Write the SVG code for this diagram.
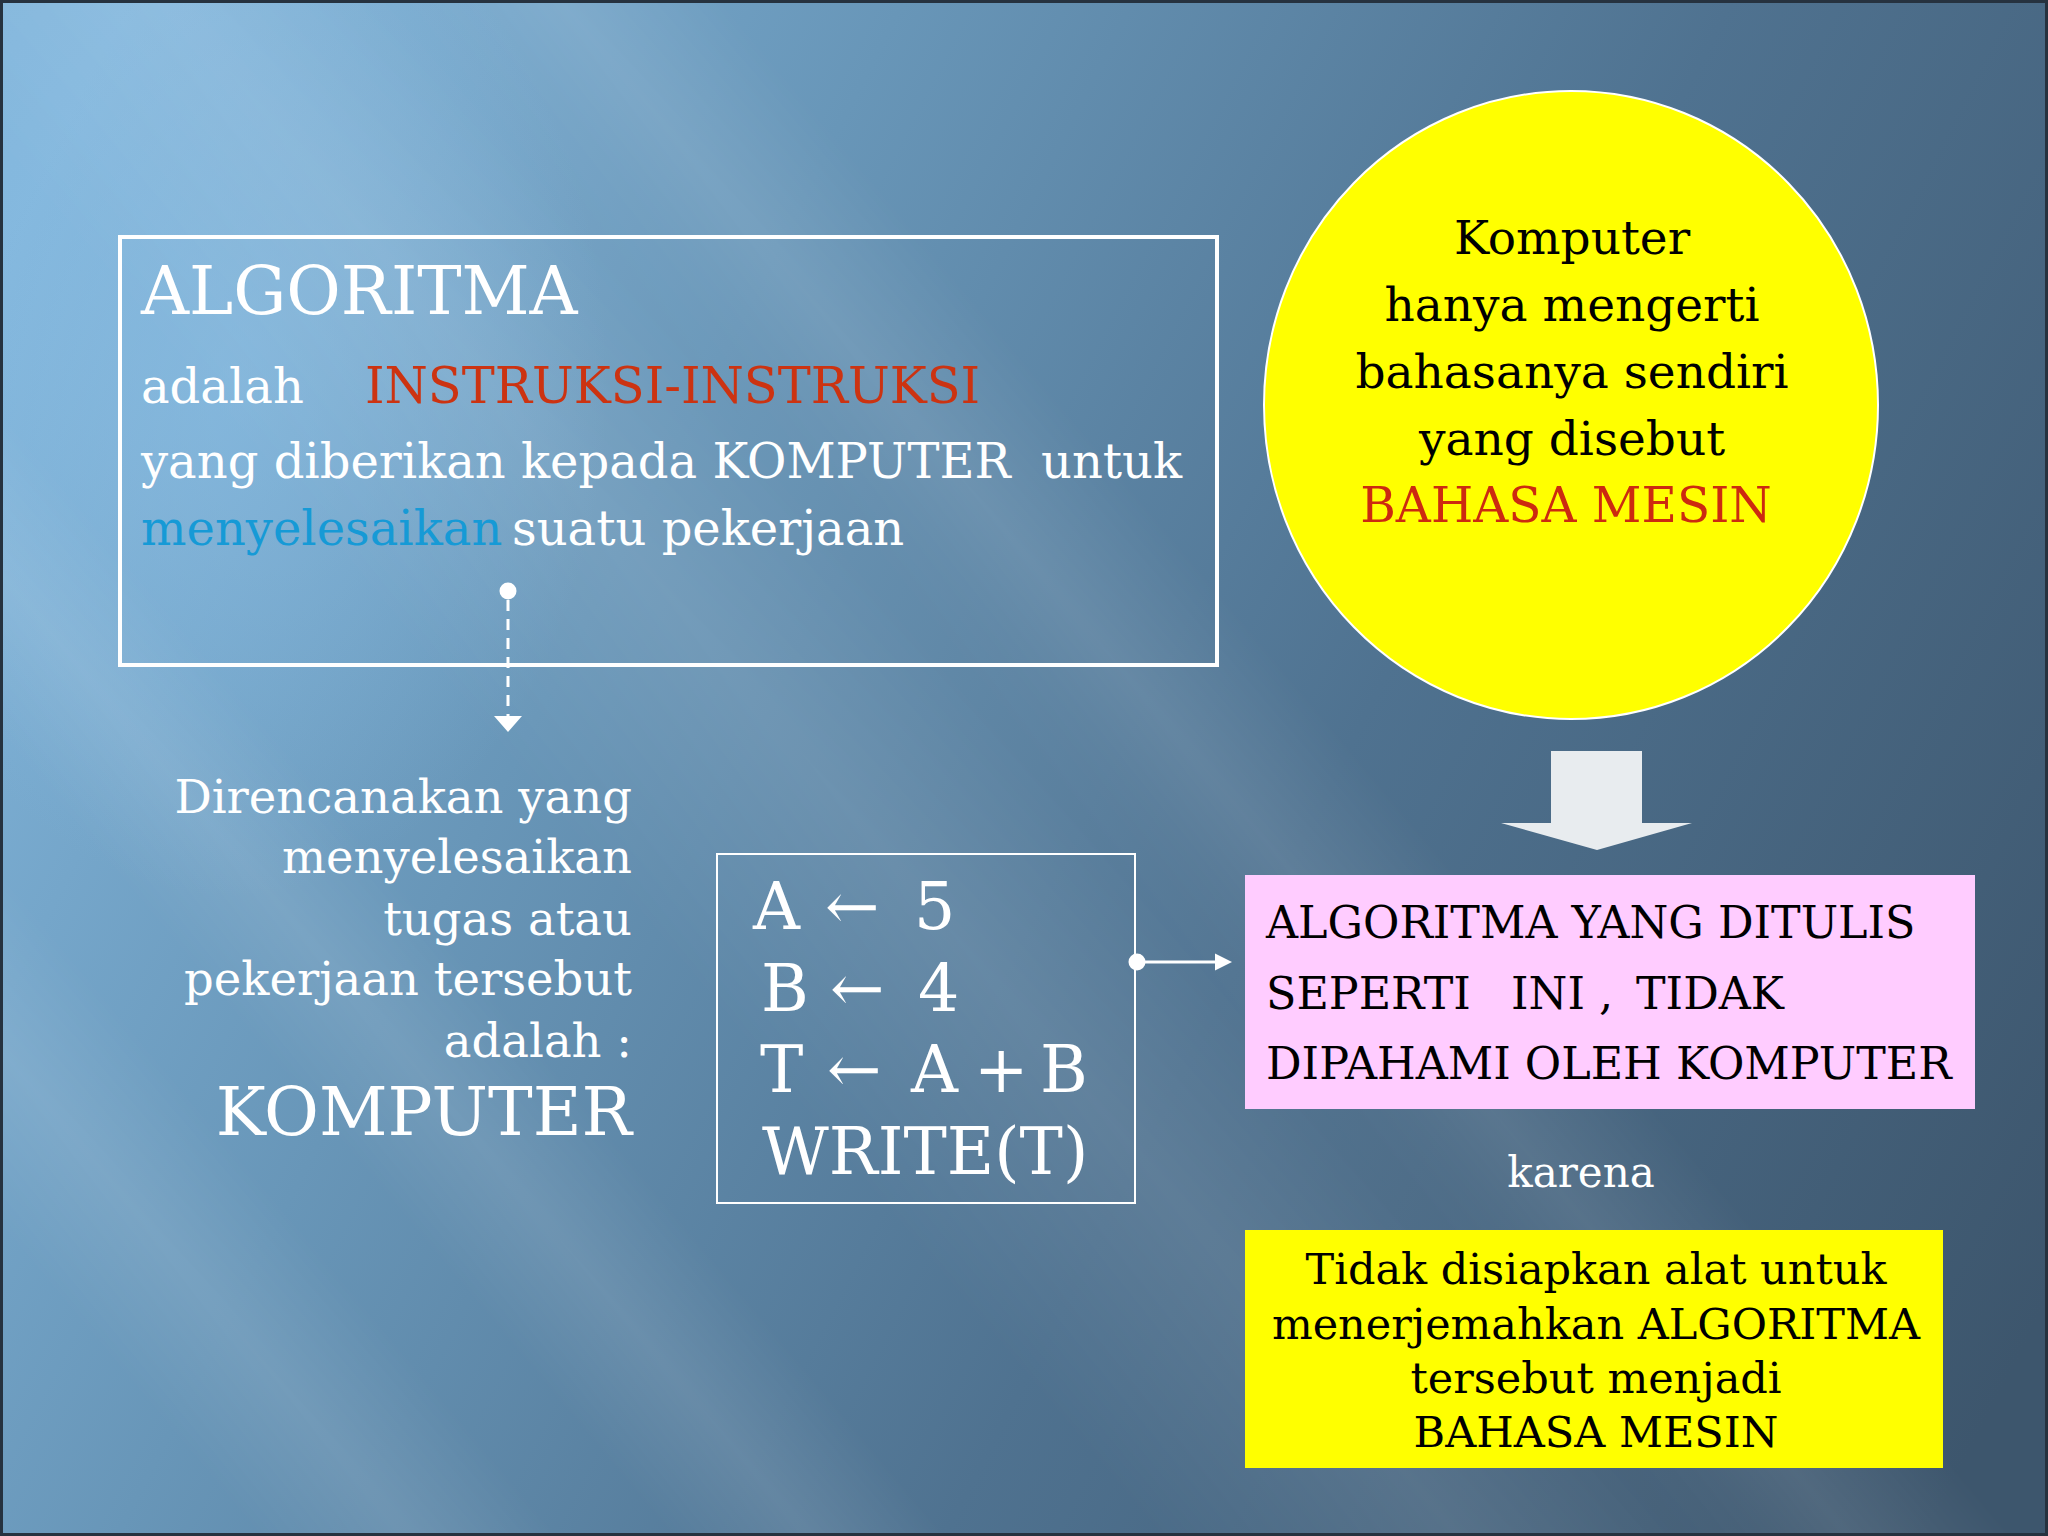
<svg xmlns="http://www.w3.org/2000/svg" width="2048" height="1536" viewBox="0 0 2048 1536">
  <defs>
    <linearGradient id="bg" gradientUnits="userSpaceOnUse" x1="0" y1="250" x2="2048" y2="1300">
      <stop offset="0" stop-color="#82b6dc"/>
      <stop offset="0.3" stop-color="#6896b8"/>
      <stop offset="0.62" stop-color="#4f7290"/>
      <stop offset="1" stop-color="#3d566d"/>
    </linearGradient>
    <linearGradient id="band" x1="0" y1="0" x2="1" y2="0">
      <stop offset="0" stop-color="#ffffff" stop-opacity="0"/>
      <stop offset="0.5" stop-color="#ffffff" stop-opacity="1"/>
      <stop offset="1" stop-color="#ffffff" stop-opacity="0"/>
    </linearGradient>
    <radialGradient id="glow" cx="0.5" cy="0.5" r="0.5">
      <stop offset="0" stop-color="#90c4ea" stop-opacity="0.5"/>
      <stop offset="1" stop-color="#90c4ea" stop-opacity="0"/>
    </radialGradient>
    <marker id="dot" markerUnits="userSpaceOnUse" markerWidth="20" markerHeight="20" refX="10" refY="10" orient="auto">
      <circle cx="10" cy="10" r="8.5" fill="#ffffff"/>
    </marker>
    <marker id="head" markerUnits="userSpaceOnUse" markerWidth="30" markerHeight="30" refX="2" refY="15" orient="auto">
      <polygon points="0,1 16,15 0,29" fill="#ffffff"/>
    </marker>
    <marker id="headSmall" markerUnits="userSpaceOnUse" markerWidth="20" markerHeight="20" refX="2" refY="10" orient="auto">
      <polygon points="0,1.5 17,10 0,18.5" fill="#ffffff"/>
    </marker>
    <style>
      .serif { font-family: "DejaVu Serif", "Liberation Serif", serif; }
      .w { fill: #ffffff; }
      .k { fill: #000000; }
      .red { fill: #cc3311; }
      .cyan { fill: #169ad6; }
      .frame { fill: none; stroke: #ffffff; }
      .conn { stroke: #ffffff; stroke-width: 3; fill: none; }
    </style>
  </defs>

  <!-- background -->
  <rect x="0" y="0" width="2048" height="1536" fill="url(#bg)"/>
  <ellipse cx="230" cy="380" rx="380" ry="520" fill="url(#glow)"/>
  <g opacity="0.09">
    <rect x="-240" y="-300" width="480" height="2600" fill="url(#band)" transform="translate(170,0) rotate(-40)"/>
    <rect x="-130" y="-300" width="260" height="2600" fill="url(#band)" transform="translate(560,0) rotate(-40)"/>
    <rect x="-110" y="-300" width="220" height="2600" fill="url(#band)" transform="translate(-480,0) rotate(-40)"/>
    <rect x="-120" y="-300" width="240" height="2600" fill="url(#band)" transform="translate(-880,0) rotate(-40)"/>
  </g>
  <rect x="1.5" y="1.5" width="2045" height="1533" fill="none" stroke="#26323f" stroke-width="3"/>

  <!-- node: definition box -->
  <g id="algoritma-box">
    <rect class="frame" x="120" y="237" width="1097" height="428" stroke-width="4"/>
    <text class="serif w" x="141" y="314" font-size="66.5">ALGORITMA</text>
    <text class="serif w" x="141" y="403" font-size="48">adalah<tspan class="red" x="365" font-size="49.5">INSTRUKSI-INSTRUKSI</tspan></text>
    <text class="serif w" x="141" y="478" font-size="48">yang diberikan kepada KOMPUTER<tspan x="1041">untuk</tspan></text>
    <text class="serif w" x="141" y="545" font-size="48"><tspan class="cyan">menyelesaikan</tspan><tspan x="512">suatu pekerjaan</tspan></text>
  </g>

  <!-- node: yellow circle -->
  <g id="bahasa-mesin-circle">
    <ellipse cx="1571" cy="405" rx="307" ry="314" fill="#ffff00" stroke="#ffffff" stroke-width="2"/>
    <g class="serif k" font-size="47" text-anchor="middle">
      <text x="1572" y="254">Komputer</text>
      <text x="1572" y="321">hanya mengerti</text>
      <text x="1572" y="388">bahasanya sendiri</text>
      <text x="1572" y="455">yang disebut</text>
      <text x="1566" y="522" fill="#cc2a10" font-size="48.5">BAHASA MESIN</text>
    </g>
  </g>

  <!-- node: left description -->
  <g id="direncanakan-text" class="serif w" text-anchor="end">
    <text x="632" y="813" font-size="46.5">Direncanakan yang</text>
    <text x="632" y="873" font-size="46.5">menyelesaikan</text>
    <text x="632" y="935" font-size="46.5">tugas atau</text>
    <text x="632" y="995" font-size="46.5">pekerjaan tersebut</text>
    <text x="632" y="1057" font-size="46.5">adalah :</text>
    <text x="632" y="1135" font-size="67">KOMPUTER</text>
  </g>

  <!-- node: code box -->
  <g id="code-box">
    <rect class="frame" x="717" y="854" width="418" height="349" stroke-width="2"/>
    <g class="serif w" font-size="65">
      <text y="929"><tspan x="753">A</tspan><tspan x="825">←</tspan><tspan x="914">5</tspan></text>
      <text y="1011"><tspan x="761">B</tspan><tspan x="830">←</tspan><tspan x="918">4</tspan></text>
      <text y="1092"><tspan x="760">T</tspan><tspan x="827">←</tspan><tspan x="911">A</tspan><tspan x="974">+</tspan><tspan x="1040">B</tspan></text>
      <text x="762" y="1174">WRITE(T)</text>
    </g>
  </g>

  <!-- node: pink box -->
  <g id="tidak-dipahami-box">
    <rect x="1245" y="875" width="730" height="234" fill="#ffccff"/>
    <g class="serif k" font-size="44.4">
      <text x="1266" y="938">ALGORITMA YANG DITULIS</text>
      <text y="1009"><tspan x="1266">SEPERTI</tspan><tspan x="1511">INI ,</tspan><tspan x="1636">TIDAK</tspan></text>
      <text x="1266" y="1079">DIPAHAMI OLEH KOMPUTER</text>
    </g>
  </g>

  <!-- node: karena -->
  <g id="karena-label">
    <text class="serif w" x="1581" y="1187" font-size="42" text-anchor="middle">karena</text>
  </g>

  <!-- node: yellow box -->
  <g id="alasan-box">
    <rect x="1245" y="1230" width="698" height="238" fill="#ffff00"/>
    <g class="serif k" font-size="43" text-anchor="middle">
      <text x="1596" y="1284">Tidak disiapkan alat untuk</text>
      <text x="1596" y="1339">menerjemahkan ALGORITMA</text>
      <text x="1596" y="1393">tersebut menjadi</text>
      <text x="1596" y="1447">BAHASA MESIN</text>
    </g>
  </g>

  <!-- connectors -->
  <g id="connectors">
    <line class="conn" x1="508" y1="591" x2="508" y2="718" stroke-dasharray="11 8" stroke-dashoffset="-9" marker-start="url(#dot)" marker-end="url(#head)"/>
    <line class="conn" x1="1137" y1="962" x2="1217" y2="962" marker-start="url(#dot)" marker-end="url(#headSmall)"/>
    <polygon points="1551,751 1642,751 1642,823 1692,823 1597,850 1501,823 1551,823" fill="#e8ecef"/>
  </g>
</svg>
